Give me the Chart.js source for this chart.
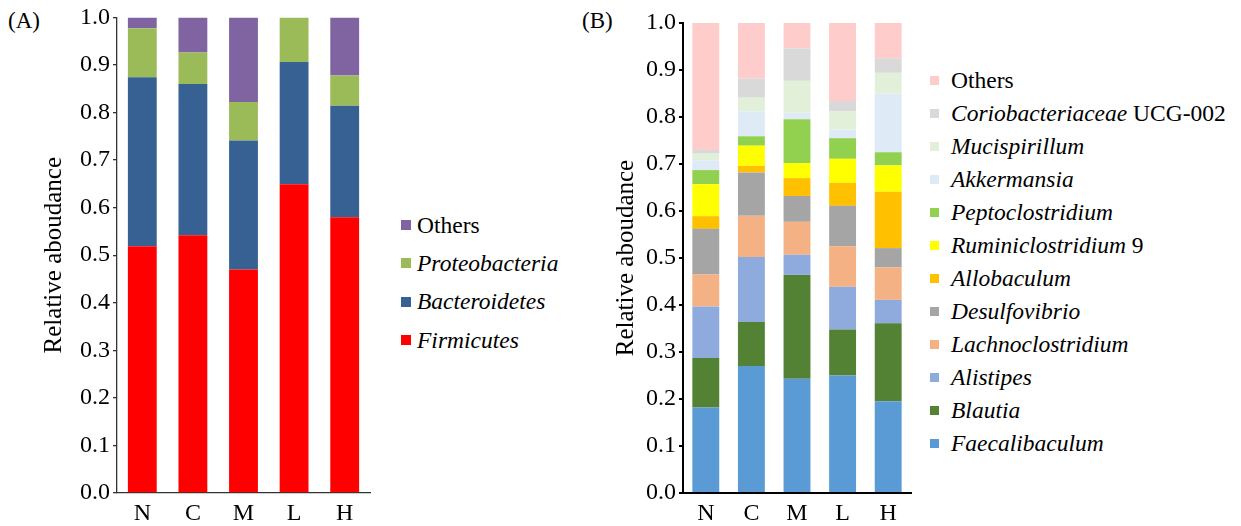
<!DOCTYPE html>
<html>
<head>
<meta charset="utf-8">
<script src="https://cdn.jsdelivr.net/npm/chart.js@4.4.1/dist/chart.umd.min.js"></script>
<style>
  body { margin: 0; background: #fff; width: 1241px; height: 526px; position: relative; overflow: hidden;
         font-family: 'Liberation Serif', 'Times New Roman', serif; color: #000; }
  .panel-label { position: absolute; font-size: 23px; line-height: 23px; }
  .box { position: absolute; }
  .legend { position: absolute; font-size: 23.5px; }
  .legend .row { display: flex; align-items: center; white-space: nowrap; }
  .legend .sq { display: inline-block; flex: none; }
</style>
</head>
<body>
<div class="panel-label" style="left:8px; top:9px;">(A)</div>
<div class="panel-label" style="left:582px; top:9px;">(B)</div>

<div class="box" style="left:0; top:0; width:372px; height:526px;"><canvas id="chartA"></canvas></div>
<div class="box" style="left:572px; top:0; width:341px; height:526px;"><canvas id="chartB"></canvas></div>

<div class="legend" id="legendA" style="left:401px; top:206px;"></div>
<div class="legend" id="legendB" style="left:930px; top:64px;"></div>

<script>
// grupos
var groups = ['N', 'C', 'M', 'L', 'H'];
var yTicks = [0, 0.1, 0.2, 0.3, 0.4, 0.5, 0.6, 0.7, 0.8, 0.9, 1.0];

// (A) filo
var firmicutes     = [0.519, 0.542, 0.470, 0.649, 0.580];
var bacteroidetes  = [0.355, 0.318, 0.271, 0.257, 0.234];
var proteobacteria = [0.103, 0.066, 0.081, 0.094, 0.064];
var othersA        = [0.023, 0.074, 0.178, 0.000, 0.122];

// (B) genero
var faecalibaculum    = [0.182, 0.270, 0.243, 0.250, 0.195];
var blautia           = [0.105, 0.094, 0.221, 0.098, 0.166];
var alistipes         = [0.110, 0.138, 0.043, 0.091, 0.050];
var lachnoclostridium = [0.068, 0.088, 0.070, 0.086, 0.069];
var desulfovibrio     = [0.097, 0.092, 0.055, 0.086, 0.041];
var allobaculum       = [0.027, 0.014, 0.038, 0.049, 0.120];
var ruminiclostridium = [0.068, 0.043, 0.032, 0.051, 0.056];
var peptoclostridium  = [0.030, 0.020, 0.093, 0.044, 0.028];
var akkermansia       = [0.021, 0.053, 0.014, 0.018, 0.125];
var mucispirillum     = [0.014, 0.029, 0.068, 0.039, 0.044];
var coriobacteriaceae = [0.008, 0.041, 0.069, 0.022, 0.031];
var othersB           = [0.270, 0.118, 0.054, 0.166, 0.075];

var serif = "'Liberation Serif', 'Times New Roman', serif";

// italico so nos nomes de genero / filo
function legendText(name) {
  return name.split(' ').map(function (w) {
    if (w === 'Others' || !/^[A-Z][a-z]+$/.test(w)) return w;
    return '<i>' + w + '</i>';
  }).join(' ');
}

function buildLegend(id, datasets, rowH, sq, gap) {
  var el = document.getElementById(id);
  var html = '';
  // ordem invertida: topo da pilha primeiro
  for (var i = datasets.length - 1; i >= 0; i--) {
    html += '<div class="row" style="height:' + rowH + 'px">' +
      '<span class="sq" style="width:' + sq + 'px;height:' + sq + 'px;background:' + datasets[i].backgroundColor +
      ';margin-right:' + gap + 'px"></span><span>' + legendText(datasets[i].label) + '</span></div>';
  }
  el.innerHTML = html;
}

function makeOptions(axisW, axisColor, titlePad, padTop) {
  return {
    responsive: true,
    maintainAspectRatio: false,
    animation: false,
    layout: { padding: { top: padTop, right: 2, left: 0, bottom: 0 } },
    plugins: { legend: { display: false }, tooltip: { enabled: false } },
    scales: {
      x: {
        stacked: true,
        grid: { display: false, drawTicks: false },
        border: { display: true, color: axisColor.c, width: axisColor.w },
        ticks: { color: '#000', padding: 6, font: { family: serif, size: 24 } },
        afterFit: function (scale) { scale.height = 33; }
      },
      y: {
        stacked: true,
        min: 0,
        max: 1,
        afterBuildTicks: function (scale) {
          scale.ticks = yTicks.map(function (v) { return { value: v }; });
        },
        grid: { drawOnChartArea: false, drawTicks: true, tickLength: 4, color: axisColor.c, lineWidth: axisColor.w },
        border: { display: true, color: axisColor.c, width: axisColor.w },
        ticks: {
          color: '#000', padding: 3, font: { family: serif, size: 24 },
          callback: function (v) { return Number(v).toFixed(1); }
        },
        title: {
          display: true, text: 'Relative aboudance', color: '#000',
          font: { family: serif, size: 25 }, padding: { top: titlePad, bottom: 0 }
        },
        afterFit: function (scale) { scale.width = axisW; }
      }
    }
  };
}

var datasetsA = [
  { label: 'Firmicutes', data: firmicutes, backgroundColor: '#FF0000' },
  { label: 'Bacteroidetes', data: bacteroidetes, backgroundColor: '#386193' },
  { label: 'Proteobacteria', data: proteobacteria, backgroundColor: '#9BBB59' },
  { label: 'Others', data: othersA, backgroundColor: '#8064A2' }
];
datasetsA.forEach(function (d) { d.barPercentage = 0.57; d.categoryPercentage = 1; d.borderWidth = 0; });

var datasetsB = [
  { label: 'Faecalibaculum', data: faecalibaculum, backgroundColor: '#5B9BD5' },
  { label: 'Blautia', data: blautia, backgroundColor: '#548235' },
  { label: 'Alistipes', data: alistipes, backgroundColor: '#8FAADC' },
  { label: 'Lachnoclostridium', data: lachnoclostridium, backgroundColor: '#F4B183' },
  { label: 'Desulfovibrio', data: desulfovibrio, backgroundColor: '#A5A5A5' },
  { label: 'Allobaculum', data: allobaculum, backgroundColor: '#FFC000' },
  { label: 'Ruminiclostridium 9', data: ruminiclostridium, backgroundColor: '#FFFF00' },
  { label: 'Peptoclostridium', data: peptoclostridium, backgroundColor: '#92D050' },
  { label: 'Akkermansia', data: akkermansia, backgroundColor: '#DEEBF7' },
  { label: 'Mucispirillum', data: mucispirillum, backgroundColor: '#E2F0D9' },
  { label: 'Coriobacteriaceae UCG-002', data: coriobacteriaceae, backgroundColor: '#D9D9D9' },
  { label: 'Others', data: othersB, backgroundColor: '#FFCCCC' }
];
datasetsB.forEach(function (d) { d.barPercentage = 0.59; d.categoryPercentage = 1; d.borderWidth = 0; });

var chartA = new Chart(document.getElementById('chartA'), {
  type: 'bar',
  data: { labels: groups, datasets: datasetsA },
  options: makeOptions(117, { c: '#333', w: 1.3 }, 39, 16)
});

var chartB = new Chart(document.getElementById('chartB'), {
  type: 'bar',
  data: { labels: groups, datasets: datasetsB },
  options: makeOptions(111, { c: '#000', w: 2 }, 39, 23)
});

buildLegend('legendA', datasetsA, 38.3, 10, 6);
buildLegend('legendB', datasetsB, 33, 9, 12);
</script>
</body>
</html>
